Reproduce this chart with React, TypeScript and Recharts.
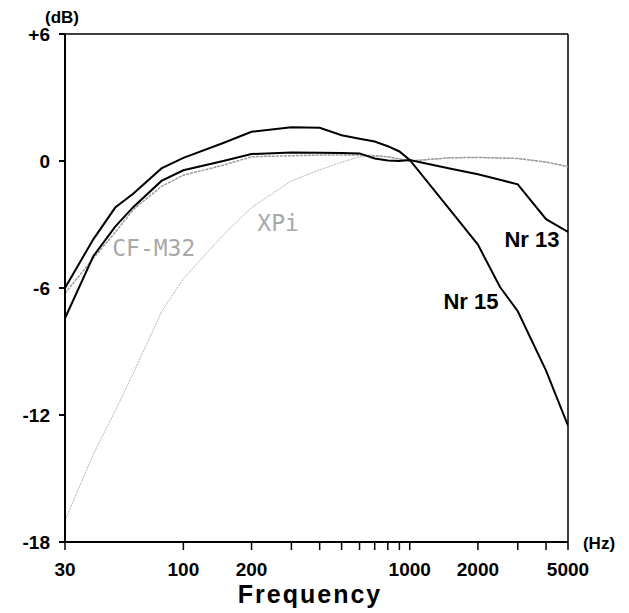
import { LineChart, Line, XAxis, YAxis, ReferenceLine, ReferenceDot } from 'recharts';

// frequency grid (Hz) and response of each unit (dB)
const freqs = [30, 40, 50, 60, 80, 100, 150, 200, 300, 400, 500, 600, 700, 800, 900, 1000, 1500, 2000, 2500, 3000, 4000, 5000];
const nr15 = [-6.0, -3.7, -2.2, -1.55, -0.35, 0.15, 0.85, 1.38, 1.6, 1.57, 1.22, 1.05, 0.92, 0.7, 0.45, 0.05, -2.28, -3.95, -5.94, -7.1, -9.9, -12.5];
const nr13 = [-7.43, -4.5, -3.1, -2.18, -0.94, -0.44, 0.0, 0.33, 0.4, 0.39, 0.38, 0.36, 0.12, 0.02, 0.0, 0.05, -0.35, -0.63, -0.89, -1.1, -2.75, -3.35];
const cfm32 = [-6.25, -4.6, -3.37, -2.3, -1.2, -0.67, -0.2, 0.2, 0.25, 0.28, 0.28, 0.28, 0.25, 0.2, 0.1, 0.0, 0.15, 0.17, 0.14, 0.12, -0.05, -0.27];
const xpi = [-17, -13.85, -11.8, -10.05, -7.13, -5.55, -3.5, -2.2, -0.94, -0.42, -0.06, 0.2, 0.22, 0.2, 0.1, 0.0, 0.15, 0.17, 0.14, 0.12, -0.05, -0.27];

const xTicks = [30, 100, 200, 300, 400, 500, 600, 700, 800, 900, 1000, 2000, 3000, 4000, 5000];
const xLabels = [30, 100, 200, 1000, 2000, 5000];
const yTicks = [-18, -12, -6, 0, 6];

const data = freqs.map((f, i) => ({ f, nr15: nr15[i], nr13: nr13[i], cfm32: cfm32[i], xpi: xpi[i] }));

const font = '"Liberation Sans", Arial, sans-serif';
const tickStyle = { fontSize: 19, fontWeight: 'bold', fill: '#000', fontFamily: font };

export default function App() {
  return (
    <div style={{ position: 'absolute', left: 0, top: 0, width: 629, height: 613, background: '#fff' }}>
      <LineChart width={629} height={613} data={data} margin={{ top: 34, right: 61, bottom: 31, left: 15 }}>
        <XAxis
          dataKey="f"
          type="number"
          scale="log"
          domain={[30, 5000]}
          allowDataOverflow
          ticks={xTicks}
          interval={0}
          tickFormatter={(v) => (xLabels.includes(v) ? String(v) : '')}
          tick={tickStyle}
          tickSize={8}
          tickMargin={13}
          height={40}
          axisLine={{ stroke: '#000', strokeWidth: 2 }}
          tickLine={{ stroke: '#000', strokeWidth: 1.5 }}
        />
        <YAxis
          type="number"
          domain={[-18, 6]}
          ticks={yTicks}
          interval={0}
          tickFormatter={(v) => (v > 0 ? '+' + v : String(v))}
          tick={tickStyle}
          tickSize={6}
          tickMargin={9}
          width={50}
          axisLine={{ stroke: '#000', strokeWidth: 2 }}
          tickLine={{ stroke: '#000', strokeWidth: 2 }}
        />
        <ReferenceLine y={6} stroke="#000" strokeWidth={1.5} />
        <ReferenceLine x={5000} stroke="#000" strokeWidth={1.5} />
        <Line dataKey="xpi" type="linear" stroke="#b4b4b4" strokeWidth={1} strokeDasharray="2 1" dot={false} isAnimationActive={false} />
        <Line dataKey="cfm32" type="linear" stroke="#9c9c9c" strokeWidth={1.5} strokeDasharray="3 1" dot={false} isAnimationActive={false} />
        <Line dataKey="nr13" type="linear" stroke="#000" strokeWidth={2} dot={false} isAnimationActive={false} />
        <Line dataKey="nr15" type="linear" stroke="#000" strokeWidth={2} dot={false} isAnimationActive={false} />
        <ReferenceDot x={3467} y={-3.7} r={0} label={{ value: 'Nr 13', position: 'center', fontSize: 22, fontWeight: 'bold', fill: '#000', fontFamily: font }} />
        <ReferenceDot x={1863} y={-6.6} r={0} label={{ value: 'Nr 15', position: 'center', fontSize: 22, fontWeight: 'bold', fill: '#000', fontFamily: font }} />
        <ReferenceDot x={74} y={-4.1} r={0} label={{ value: 'CF-M32', position: 'center', fontSize: 23, fill: '#a8a8a8', fontFamily: '"DejaVu Sans Mono", monospace' }} />
        <ReferenceDot x={262} y={-2.9} r={0} label={{ value: 'XPi', position: 'center', fontSize: 23, fill: '#a8a8a8', fontFamily: '"DejaVu Sans Mono", monospace' }} />
      </LineChart>
      <svg width={629} height={613} style={{ position: 'absolute', left: 0, top: 0, pointerEvents: 'none' }}>
        <text x={62} y={23} textAnchor="middle" fontSize={17} fontWeight="bold" fontFamily={font}>(dB)</text>
        <text x={599} y={549} textAnchor="middle" fontSize={17} fontWeight="bold" fontFamily={font}>(Hz)</text>
        <text x={310} y={603} textAnchor="middle" fontSize={25} fontWeight="bold" letterSpacing={2} fontFamily={font}>Frequency</text>
      </svg>
    </div>
  );
}
